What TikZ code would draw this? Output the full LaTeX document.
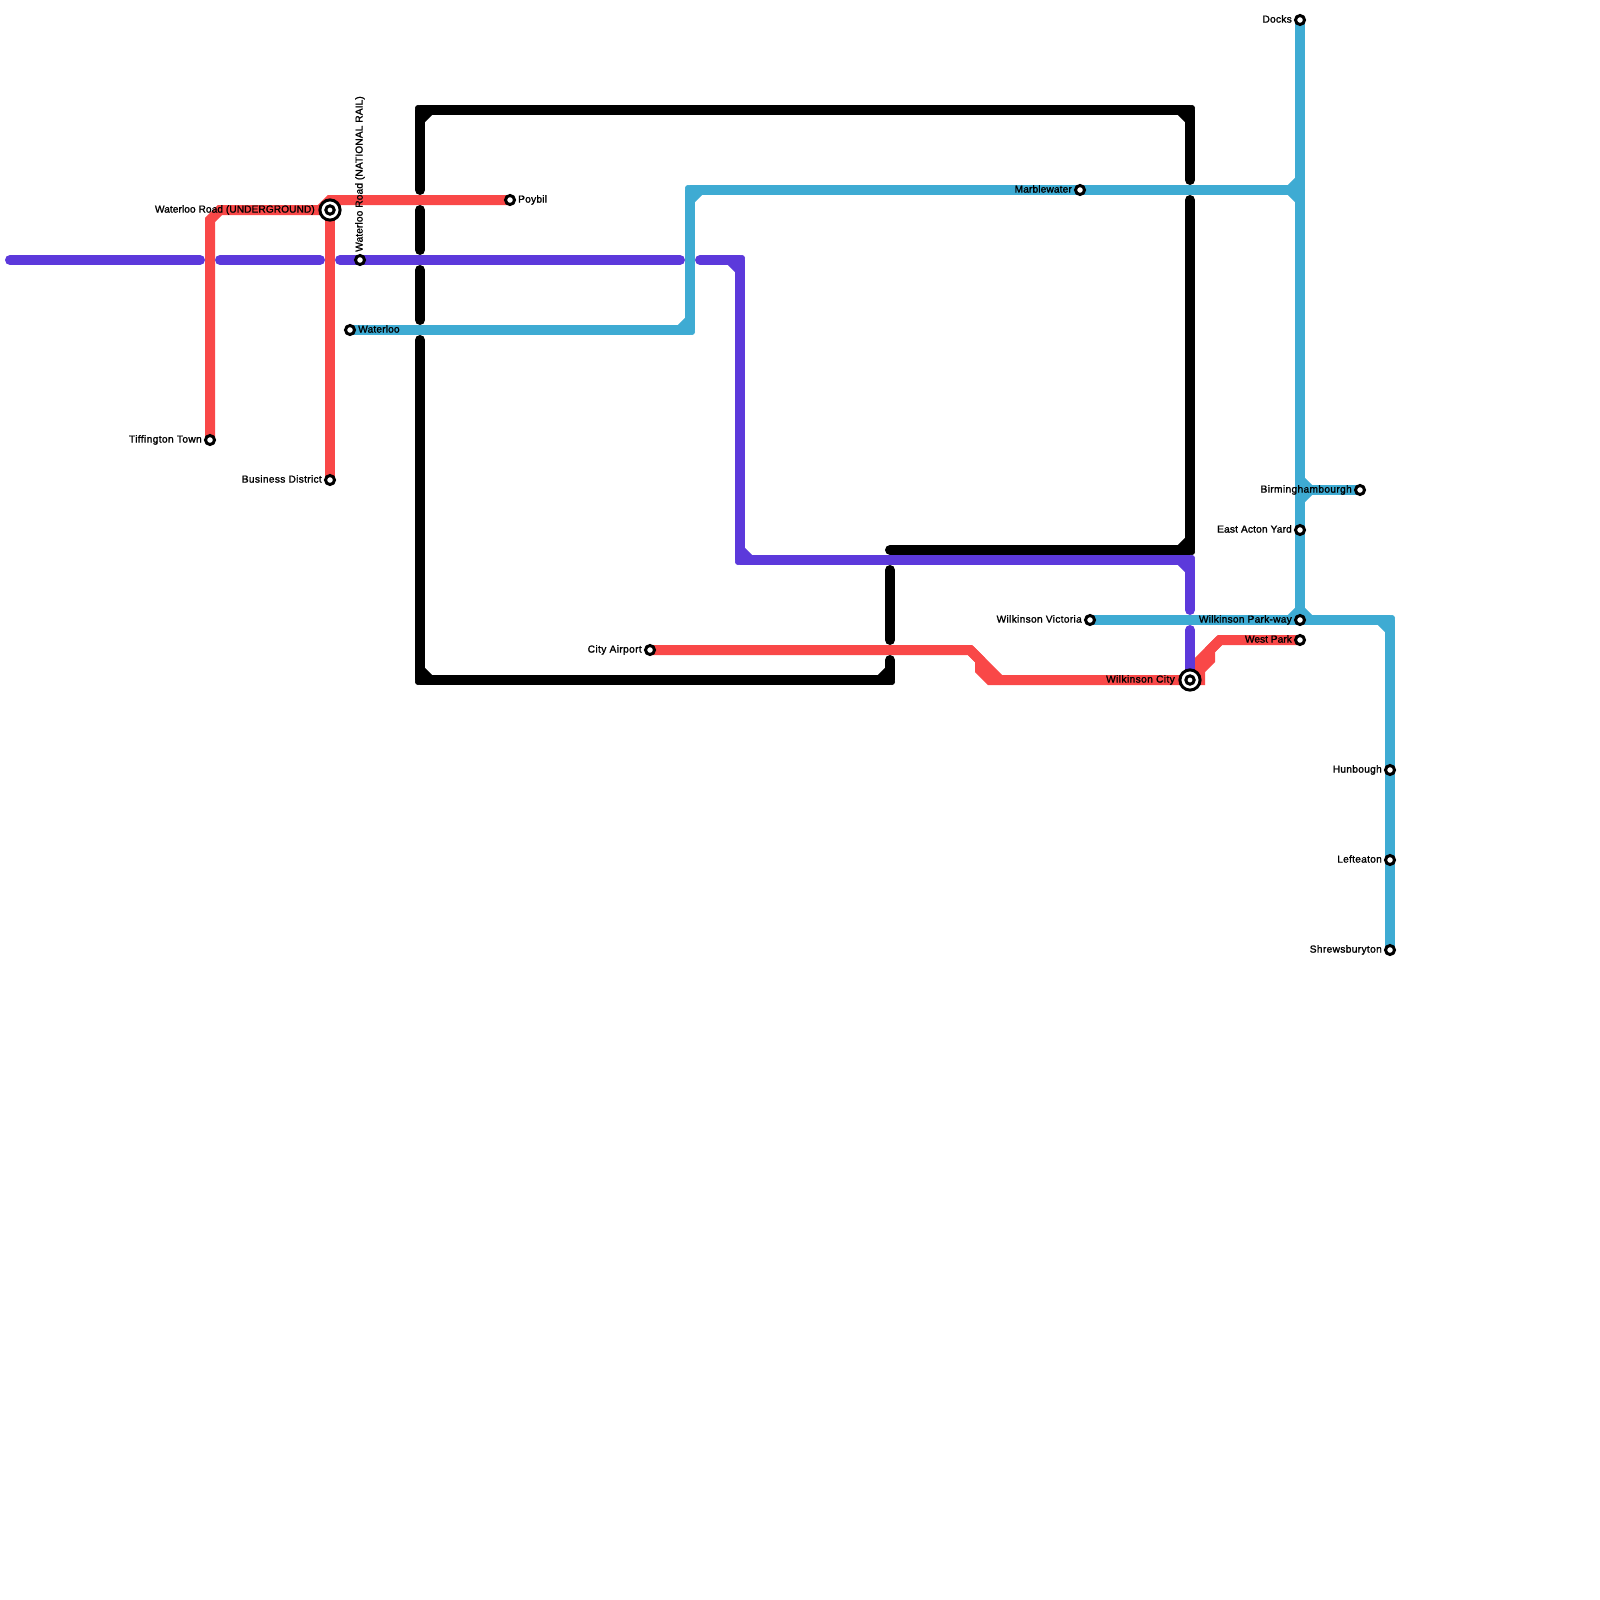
\documentclass[tikz,border=0pt]{standalone}
\usepackage{fontspec}
\setmainfont[FakeBold=1.5]{Liberation Sans}
\usetikzlibrary{calc}
\definecolor{redline}{RGB}{249,72,72}
\definecolor{purpleline}{RGB}{92,57,219}
\definecolor{blueline}{RGB}{62,171,211}
\tikzset{
  railred/.style={draw=redline,line width=10pt,line cap=round,line join=miter},
  railblue/.style={draw=blueline,line width=10pt,line cap=round,line join=round},
  railpurple/.style={draw=purpleline,line width=10pt,line cap=round,line join=round},
  railblack/.style={draw=black,line width=10pt,line cap=round,line join=round},
  chamfer/.style={line cap=butt},
  stn/.style={circle,draw=black,fill=white,line width=3pt,minimum size=9pt,inner sep=0pt,outer sep=0pt},
  hub/.style={circle,draw=black,fill=white,line width=3pt,minimum size=20.2pt,inner sep=0pt,outer sep=0pt},
  hubcore/.style={stn,minimum size=8.4pt},
  lblL/.style={anchor=base east,inner sep=0pt,font=\fontsize{10.2}{12}\selectfont,text=black,xshift=-8pt,yshift=-2.6pt},
  lblR/.style={anchor=base west,inner sep=0pt,font=\fontsize{10.2}{12}\selectfont,text=black,xshift=8pt,yshift=-2.6pt},
  lblHub/.style={lblL,xshift=-7pt},
  lblUp/.style={anchor=base west,rotate=90,inner sep=0pt,font=\fontsize{10.2}{12}\selectfont,text=black,xshift=8pt,yshift=-2.6pt},
}
\newcommand{\outercorner}[4]{\fill[#1] ($(#2)+(#3,#4)$) circle[radius=3pt];}
\newcommand{\lsp}[2]{{\addfontfeature{LetterSpace=#1}#2}}
\begin{document}
\begin{tikzpicture}[x=1pt,y=-1pt]
\useasboundingbox (0,0) rectangle (1600,1600);
% stations
\coordinate (wrd) at (330,210);
\coordinate (wnr) at (360,260);
\coordinate (tif) at (210,440);
\coordinate (bus) at (330,480);
\coordinate (poy) at (510,200);
\coordinate (wat) at (350,330);
\coordinate (air) at (650,650);
\coordinate (wct) at (1190,680);
\coordinate (wep) at (1300,640);
\coordinate (wvi) at (1090,620);
\coordinate (wpw) at (1300,620);
\coordinate (mar) at (1080,190);
\coordinate (doc) at (1300,20);
\coordinate (bir) at (1360,490);
\coordinate (eay) at (1300,530);
\coordinate (hun) at (1390,770);
\coordinate (lef) at (1390,860);
\coordinate (shr) at (1390,950);
% free ends and bends
\coordinate (p0) at (10,260);   \coordinate (p1) at (200,260);
\coordinate (p2) at (220,260);  \coordinate (p3) at (320,260);
\coordinate (p4) at (340,260);  \coordinate (p5) at (680,260);
\coordinate (p6) at (700,260);  \coordinate (p7) at (740,260);
\coordinate (p8) at (740,560);  \coordinate (p9) at (1190,560);
\coordinate (p10) at (1190,610);\coordinate (p11) at (1190,630);
\coordinate (k0) at (420,190);  \coordinate (k1) at (420,110);
\coordinate (k2) at (1190,110); \coordinate (k3) at (1190,180);
\coordinate (k4) at (420,210);  \coordinate (k5) at (420,250);
\coordinate (k6) at (420,270);  \coordinate (k7) at (420,320);
\coordinate (k8) at (420,340);  \coordinate (k9) at (420,680);
\coordinate (k10) at (890,680); \coordinate (k11) at (890,660);
\coordinate (k12) at (890,640); \coordinate (k13) at (890,570);
\coordinate (k14) at (890,550); \coordinate (k15) at (1190,550);
\coordinate (k16) at (1190,200);
\coordinate (b1) at (690,330);  \coordinate (b2) at (690,190);
\coordinate (b3) at (1300,190); \coordinate (b4) at (1390,620);
% red
\draw[railred] (tif) -- (210,220) -- (220,210) -- (320,210) -- (330,200) -- (poy);
\draw[railred] (bus) -- (wrd);
\draw[railred] (air) -- (970,650) -- (980,660) -- (980,670) -- (990,680) -- (wct);
\draw[railred] (970,650) -- (1000,680);
\draw[railred] (wep) -- (1220,640) -- (1210,650) -- (1210,660) -- (1200,670) -- (1200,680) -- (wct);
\draw[railred] (1220,640) -- (1190,670);
% blue
\draw[railblue] (wat) -- (b1) -- (b2) -- (b3);
\outercorner{blueline}{b1}{2}{2}
\outercorner{blueline}{b2}{-2}{-2}
\draw[railblue,chamfer] (680,330) -- (690,320);
\draw[railblue,chamfer] (690,200) -- (700,190);
\draw[railblue] (doc) -- (wpw);
\draw[railblue,chamfer] (1290,190) -- (1300,180);
\draw[railblue,chamfer] (1290,190) -- (1300,200);
\draw[railblue] (1300,490) -- (bir);
\draw[railblue,chamfer] (1310,490) -- (1300,480);
\draw[railblue,chamfer] (1310,490) -- (1300,500);
\draw[railblue,chamfer] (1290,620) -- (1300,610);
\draw[railblue,chamfer] (1310,620) -- (1300,610);
\draw[railblue] (wvi) -- (b4) -- (shr);
\outercorner{blueline}{b4}{2}{-2}
\draw[railblue,chamfer] (1380,620) -- (1390,630);
% black
\draw[railblack] (k0) -- (k1) -- (k2) -- (k3);
\outercorner{black}{k1}{-2}{-2}
\outercorner{black}{k2}{2}{-2}
\draw[railblack,chamfer] (420,120) -- (430,110);
\draw[railblack,chamfer] (1180,110) -- (1190,120);
\draw[railblack] (k4) -- (k5);
\draw[railblack] (k6) -- (k7);
\draw[railblack] (k8) -- (k9) -- (k10) -- (k11);
\outercorner{black}{k9}{-2}{2}
\outercorner{black}{k10}{2}{2}
\draw[railblack,chamfer] (420,670) -- (430,680);
\draw[railblack,chamfer] (880,680) -- (890,670);
\draw[railblack] (k12) -- (k13);
\draw[railblack] (k14) -- (k15) -- (k16);
\outercorner{black}{k15}{2}{2}
\draw[railblack,chamfer] (1180,550) -- (1190,540);
% purple
\draw[railpurple] (p0) -- (p1);
\draw[railpurple] (p2) -- (p3);
\draw[railpurple] (p4) -- (p5);
\draw[railpurple] (p6) -- (p7) -- (p8) -- (p9) -- (p10);
\outercorner{purpleline}{p7}{2}{-2}
\outercorner{purpleline}{p8}{-2}{2}
\outercorner{purpleline}{p9}{2}{-2}
\draw[railpurple,chamfer] (730,260) -- (740,270);
\draw[railpurple,chamfer] (740,550) -- (750,560);
\draw[railpurple,chamfer] (1180,560) -- (1190,570);
\draw[railpurple] (p11) -- (wct);
% station markers
\foreach \s in {wnr,tif,bus,poy,wat,air,wep,wvi,wpw,mar,doc,bir,eay,hun,lef,shr}
  \node[stn] (n\s) at (\s) {};
\node[hub] (nwrd) at (wrd) {};
\node[hubcore] at (wrd) (nwrdi) {};
\node[hub] (nwct) at (wct) {};
\node[hubcore] at (wct) (nwcti) {};
% labels
\node[lblHub] (twrd) at (wrd) {\lsp{0.4}{Waterloo Road (UNDERGROUND)}};
\node[lblUp] (twnr) at (wnr) {\lsp{1}{Waterloo Road (NATIONAL RAIL)}};
\node[lblL] (ttif) at (tif) {\lsp{3.6}{Tiffington Town}};
\node[lblL] (tbus) at (bus) {\lsp{3}{Business District}};
\node[lblR] (tpoy) at (poy) {\lsp{2}{Poybil}};
\node[lblR] (twat) at (wat) {\lsp{1.4}{Waterloo}};
\node[lblL] (tair) at (air) {\lsp{3.6}{City Airport}};
\node[lblHub] (twct) at (wct) {\lsp{3.8}{Wilkinson City}};
\node[lblL] (twep) at (wep) {West Park};
\node[lblL] (twvi) at (wvi) {\lsp{3}{Wilkinson Victoria}};
\node[lblL] (twpw) at (wpw) {\lsp{2.4}{Wilkinson Park-way}};
\node[lblL] (tmar) at (mar) {\lsp{1}{Marblewater}};
\node[lblL] (tdoc) at (doc) {\lsp{2.5}{Docks}};
\node[lblL] (tbir) at (bir) {\lsp{3.3}{Birminghambourgh}};
\node[lblL] (teay) at (eay) {\lsp{1.4}{East Acton Yard}};
\node[lblL] (thun) at (hun) {\lsp{2.8}{Hunbough}};
\node[lblL] (tlef) at (lef) {\lsp{2.5}{Lefteaton}};
\node[lblL] (tshr) at (shr) {\lsp{3.3}{Shrewsburyton}};
\end{tikzpicture}
\end{document}
